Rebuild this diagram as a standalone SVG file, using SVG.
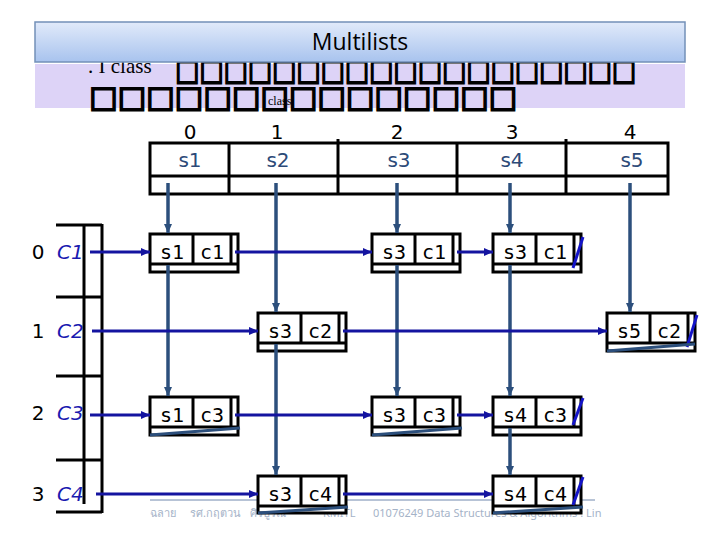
<svg xmlns="http://www.w3.org/2000/svg" width="720" height="540" viewBox="0 0 720 540">
<defs>
<linearGradient id="ban" x1="0" y1="0" x2="0" y2="1">
<stop offset="0" stop-color="#e1eafa"/>
<stop offset="1" stop-color="#a8c3ee"/>
</linearGradient>
<marker id="ab" markerUnits="userSpaceOnUse" markerWidth="10" markerHeight="10" refX="9" refY="5" orient="auto"><path d="M0,1 L9,5 L0,9 z" fill="#1414a0"/></marker>
<marker id="as" markerUnits="userSpaceOnUse" markerWidth="10" markerHeight="10" refX="9" refY="5" orient="auto"><path d="M0,1 L9,5 L0,9 z" fill="#2c4f7c"/></marker>
<style>
.box{fill:#fff;stroke:#000;stroke-width:3}
.ln{stroke:#000;stroke-width:3;fill:none}
.nt{font-family:"DejaVu Sans Mono",monospace;font-size:20px;fill:#000;text-anchor:middle}
.row{stroke:#1414a0;stroke-width:3;fill:none;marker-end:url(#ab)}
.col{stroke:#2c4f7c;stroke-width:3.5;fill:none;marker-end:url(#as)}
.nulr{stroke:#1414c8;stroke-width:3}
.nuld{stroke:#2c4f7c;stroke-width:3}
.hd{font-family:"DejaVu Sans",sans-serif;font-size:20px;fill:#000;text-anchor:middle}
.sl{font-family:"DejaVu Sans",sans-serif;font-size:20px;fill:#2c4a78;text-anchor:middle}
.cl{font-family:"DejaVu Sans",sans-serif;font-style:italic;font-size:20px;fill:#1a1ab0}
.ft{font-family:"Noto Sans","DejaVu Sans",sans-serif;font-size:11px;fill:#a5b3c8}
.tofu{font-family:"DejaVu Sans",sans-serif;font-size:30px;fill:none;stroke:#000;stroke-width:1.8}
</style>
</defs>
<rect width="720" height="540" fill="#fff"/>
<g id="subtitle">
<rect x="35" y="64" width="650" height="44" fill="#ddd3f7"/>
<text x="88" y="73" font-family="Liberation Serif,serif" font-size="21">. I class</text>
<text class="tofu" x="175" y="80" textLength="461" lengthAdjust="spacingAndGlyphs">□□□□□□□□□□□□□□□□□□□</text>
<text class="tofu" x="89" y="107" textLength="428" lengthAdjust="spacingAndGlyphs">□□□□□□□□□□□□□□□</text>
<text x="268" y="105" font-family="Liberation Serif,serif" font-size="12">class</text>
</g>
<g id="title">
<rect x="35" y="22" width="650" height="40" fill="url(#ban)" stroke="#7390b8" stroke-width="1.5"/>
<text x="360" y="50" font-family="Open Sans,sans-serif" font-size="23" text-anchor="middle" fill="#000">Multilists</text>
</g>
<g id="footer">
<line x1="150" y1="500" x2="595" y2="500" stroke="#7088ad" stroke-width="1"/>
<text class="ft" x="150" y="517">ฉลาย</text>
<text class="ft" x="190" y="517">รศ.กฤตวน</text>
<text class="ft" x="250" y="517">ศิริบูรณ์</text>
<text class="ft" x="323" y="517">KMITL</text>
<text class="ft" x="373" y="517">01076249 Data Structures &amp; Algorithms : Lin</text>
</g>
<g id="header-table">
<rect class="ln" x="150" y="143" width="518" height="51"/>
<line class="ln" x1="150" y1="176" x2="668" y2="176"/>
<line class="ln" x1="229" y1="143" x2="229" y2="194"/>
<line class="ln" x1="338" y1="139" x2="338" y2="194"/>
<line class="ln" x1="457" y1="143" x2="457" y2="194"/>
<line class="ln" x1="566" y1="139" x2="566" y2="194"/>
<text class="hd" x="190" y="139">0</text>
<text class="hd" x="277" y="139">1</text>
<text class="hd" x="397" y="139">2</text>
<text class="hd" x="512" y="139">3</text>
<text class="hd" x="630" y="139">4</text>
<text class="sl" x="190" y="167">s1</text>
<text class="sl" x="278" y="167">s2</text>
<text class="sl" x="399" y="167">s3</text>
<text class="sl" x="512" y="167">s4</text>
<text class="sl" x="632" y="167">s5</text>
</g>
<g id="row-table">
<line class="ln" x1="84" y1="225" x2="84" y2="504"/>
<line class="ln" x1="102" y1="224" x2="102" y2="513"/>
<line class="ln" x1="56" y1="225" x2="102" y2="225"/>
<line class="ln" x1="56" y1="297" x2="102" y2="297"/>
<line class="ln" x1="56" y1="376" x2="102" y2="376"/>
<line class="ln" x1="56" y1="460" x2="102" y2="460"/>
<line class="ln" x1="56" y1="512" x2="102" y2="512"/>
<text class="hd" x="38" y="259">0</text><text class="cl" x="57" y="259">C1</text>
<text class="hd" x="38" y="338">1</text><text class="cl" x="57" y="338">C2</text>
<text class="hd" x="38" y="420">2</text><text class="cl" x="57" y="420">C3</text>
<text class="hd" x="38" y="501">3</text><text class="cl" x="57" y="501">C4</text>
</g>
<g id="n-s1c1"><rect class="box" x="150" y="234" width="88" height="38"/><line class="ln" x1="150" y1="264" x2="238" y2="264"/><line class="ln" x1="193" y1="234" x2="193" y2="264"/><line class="ln" x1="231" y1="234" x2="231" y2="264"/><text class="nt" x="172" y="259">s1</text><text class="nt" x="212" y="259">c1</text></g>
<g id="n-s3c1a"><rect class="box" x="372" y="234" width="88" height="38"/><line class="ln" x1="372" y1="264" x2="460" y2="264"/><line class="ln" x1="415" y1="234" x2="415" y2="264"/><line class="ln" x1="453" y1="234" x2="453" y2="264"/><text class="nt" x="394" y="259">s3</text><text class="nt" x="434" y="259">c1</text></g>
<g id="n-s3c1b"><rect class="box" x="493" y="234" width="88" height="38"/><line class="ln" x1="493" y1="264" x2="581" y2="264"/><line class="ln" x1="536" y1="234" x2="536" y2="264"/><line class="ln" x1="574" y1="234" x2="574" y2="264"/><text class="nt" x="515" y="259">s3</text><text class="nt" x="555" y="259">c1</text><line class="nulr" x1="573" y1="268" x2="583" y2="237"/></g>
<g id="n-s3c2"><rect class="box" x="258" y="313" width="88" height="38"/><line class="ln" x1="258" y1="343" x2="346" y2="343"/><line class="ln" x1="301" y1="313" x2="301" y2="343"/><line class="ln" x1="339" y1="313" x2="339" y2="343"/><text class="nt" x="280" y="338">s3</text><text class="nt" x="320" y="338">c2</text></g>
<g id="n-s5c2"><rect class="box" x="607" y="313" width="88" height="38"/><line class="ln" x1="607" y1="343" x2="695" y2="343"/><line class="ln" x1="650" y1="313" x2="650" y2="343"/><line class="ln" x1="688" y1="313" x2="688" y2="343"/><text class="nt" x="629" y="338">s5</text><text class="nt" x="669" y="338">c2</text><line class="nulr" x1="687" y1="347" x2="697" y2="315"/><line class="nuld" x1="607" y1="351" x2="695" y2="344"/></g>
<g id="n-s1c3"><rect class="box" x="150" y="397" width="88" height="38"/><line class="ln" x1="150" y1="427" x2="238" y2="427"/><line class="ln" x1="193" y1="397" x2="193" y2="427"/><line class="ln" x1="231" y1="397" x2="231" y2="427"/><text class="nt" x="172" y="422">s1</text><text class="nt" x="212" y="422">c3</text><line class="nuld" x1="150" y1="435" x2="240" y2="428"/></g>
<g id="n-s3c3"><rect class="box" x="372" y="397" width="88" height="38"/><line class="ln" x1="372" y1="427" x2="460" y2="427"/><line class="ln" x1="415" y1="397" x2="415" y2="427"/><line class="ln" x1="453" y1="397" x2="453" y2="427"/><text class="nt" x="394" y="422">s3</text><text class="nt" x="434" y="422">c3</text><line class="nuld" x1="372" y1="435" x2="462" y2="428"/></g>
<g id="n-s4c3"><rect class="box" x="493" y="397" width="88" height="38"/><line class="ln" x1="493" y1="427" x2="581" y2="427"/><line class="ln" x1="536" y1="397" x2="536" y2="427"/><line class="ln" x1="574" y1="397" x2="574" y2="427"/><text class="nt" x="515" y="422">s4</text><text class="nt" x="555" y="422">c3</text><line class="nulr" x1="573" y1="425" x2="583" y2="398"/></g>
<g id="n-s3c4"><rect class="box" x="258" y="476" width="88" height="37"/><line class="ln" x1="258" y1="506" x2="346" y2="506"/><line class="ln" x1="301" y1="476" x2="301" y2="506"/><line class="ln" x1="339" y1="476" x2="339" y2="506"/><text class="nt" x="280" y="501">s3</text><text class="nt" x="320" y="501">c4</text><line class="nuld" x1="258" y1="513" x2="348" y2="507"/></g>
<g id="n-s4c4"><rect class="box" x="493" y="476" width="88" height="37"/><line class="ln" x1="493" y1="506" x2="581" y2="506"/><line class="ln" x1="536" y1="476" x2="536" y2="506"/><line class="ln" x1="574" y1="476" x2="574" y2="506"/><text class="nt" x="515" y="501">s4</text><text class="nt" x="555" y="501">c4</text><line class="nulr" x1="573" y1="505" x2="583" y2="477"/><line class="nuld" x1="493" y1="513" x2="583" y2="507"/></g>
<g id="connectors">
<line class="col" x1="168" y1="183" x2="168" y2="233"/>
<line class="col" x1="168" y1="265" x2="168" y2="396"/>
<line class="col" x1="276" y1="183" x2="276" y2="312"/>
<line class="col" x1="276" y1="344" x2="276" y2="475"/>
<line class="col" x1="397" y1="183" x2="397" y2="233"/>
<line class="col" x1="397" y1="265" x2="397" y2="396"/>
<line class="col" x1="510" y1="183" x2="510" y2="233"/>
<line class="col" x1="510" y1="265" x2="510" y2="396"/>
<line class="col" x1="510" y1="428" x2="510" y2="475"/>
<line class="col" x1="630" y1="183" x2="630" y2="312"/>
<line class="row" x1="90" y1="252" x2="150" y2="252"/>
<line class="row" x1="235" y1="252" x2="372" y2="252"/>
<line class="row" x1="457" y1="252" x2="493" y2="252"/>
<line class="row" x1="92" y1="331" x2="258" y2="331"/>
<line class="row" x1="343" y1="331" x2="607" y2="331"/>
<line class="row" x1="90" y1="415" x2="150" y2="415"/>
<line class="row" x1="235" y1="415" x2="372" y2="415"/>
<line class="row" x1="457" y1="415" x2="493" y2="415"/>
<line class="row" x1="96" y1="494" x2="258" y2="494"/>
<line class="row" x1="343" y1="494" x2="493" y2="494"/>
</g>
</svg>
